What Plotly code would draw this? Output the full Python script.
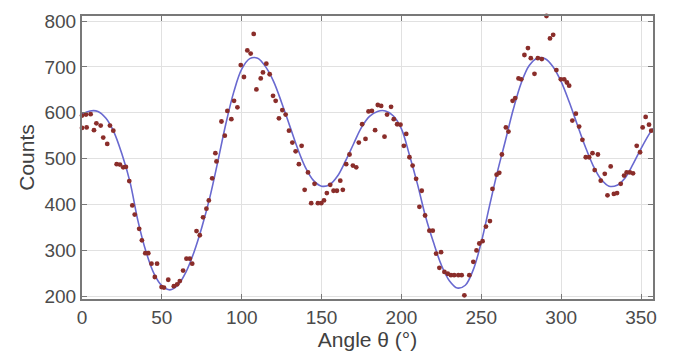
import plotly.graph_objects as go

# Measured data points (angle in degrees, counts)
angle_deg = [0, 2.5, 5.4, 0, 2.9, 7.5, 9, 11.7, 13.3, 15.8, 17.5, 19.6, 21.7, 23.75, 25.8, 27.5,
             29.6, 31.5, 33, 35.8, 37.5, 39.6, 41.5, 43.5, 47, 45.6, 49.8, 51.3, 54, 55, 57.5, 59.6,
             61.25, 63.3, 65.4, 67.5, 69, 71.7, 73.75, 75.8, 77.9, 79.4, 81.5, 84.2, 83.5, 87.3,
             89.4, 91, 93.5, 95.2, 97.3, 99.4, 101.4, 103.5, 105.6, 107.5, 109.2, 111.9, 113.3,
             115.4, 117.5, 119.6, 121.25, 123.3, 125.4, 127.5, 129.6, 131.7, 133.75, 137.5, 135.8,
             141.5, 139.4, 143.5, 145.6, 147.7, 149.8, 151.5, 153.3, 155.4, 157.5, 159.6, 161.7,
             163.3, 165.4, 167.5, 169.6, 171.7, 173.3, 175.4, 177.5, 179.4, 181.5, 183.5, 185.2,
             187.3, 189.4, 191, 193.5, 195.2, 197.3, 199.4, 201.5, 203, 205, 207, 209.2, 212.7,
             211.25, 214.8, 217.5, 219.6, 221.7, 224.8, 223.75, 226.9, 229, 231, 233, 235.6, 237.7,
             239.4, 242.5, 245, 247, 248.75, 250.8, 252.9, 255.4, 257, 259.6, 261.25, 262.9, 267,
             265.4, 269.6, 271.25, 273.3, 275, 277, 279.2, 281, 283.3, 285.4, 287.9, 290.8, 293,
             295, 297, 299.8, 301.9, 303.6, 305, 307, 309.2, 311.25, 313.3, 315.4, 317.5, 319.6,
             321, 323, 324.8, 327.3, 329, 331, 333, 335, 337.3, 339.4, 341, 343, 345, 347.3, 349.4,
             351, 352.9, 355, 356.4]
counts = [594, 596, 597, 567, 568, 562, 577, 572, 546, 532, 572, 561, 488, 487, 481, 482,
          451, 398, 378, 347, 322, 294, 294, 271, 271, 242, 220, 219, 236, 193, 222, 226,
          233, 256, 282, 282, 271, 342, 333, 372, 391, 409, 457, 494, 512, 581,
          550, 604, 586, 626, 612, 704, 678, 736, 729, 772, 651, 675, 688,
          707, 684, 637, 626, 588, 606, 596, 561, 535, 516, 528, 488,
          470, 432, 403, 445, 403, 403, 409, 425, 443, 430, 430, 452,
          432, 488, 509, 485, 481, 535, 575, 543, 603, 604, 562, 617,
          615, 548, 596, 613, 586, 575, 574, 528, 554, 503, 485, 456, 430,
          395, 376, 343, 343, 293, 296, 262, 253, 249, 246, 246, 246, 246,
          202, 246, 275, 300, 315, 320, 352, 364, 434, 465, 469, 509, 559,
          568, 626, 632, 675, 673, 726, 741, 719, 685, 719, 717, 811, 762,
          770, 693, 673, 673, 666, 659, 583, 598, 570, 541, 503, 503, 512,
          475, 509, 452, 467, 420, 483, 423, 425, 445, 463, 470, 470, 468, 528, 514,
          568, 591, 574, 561]

# Fitted curve
fit_angle = [0, 5, 10, 15, 20, 25, 30, 35, 40, 45, 50, 55, 60, 65, 70, 75, 80, 85, 90, 95,
             100, 105, 110, 115, 120, 125, 130, 135, 140, 145, 150, 155, 160, 165, 170, 175,
             180, 185, 190, 195, 200, 205, 210, 215, 220, 225, 230, 235, 240, 245, 250, 255,
             260, 265, 270, 275, 280, 285, 290, 295, 300, 305, 310, 315, 320, 325, 330, 335,
             340, 345, 350, 355, 357.5]
fit_counts = [597, 604, 603, 588, 558, 510, 450, 365, 298, 250, 223, 214, 224, 252, 295, 350,
              415, 493, 575, 645, 695, 718, 719, 700, 668, 622, 572, 522, 480, 452, 440, 443,
              462, 495, 532, 568, 592, 603, 604, 593, 565, 508, 445, 375, 318, 268, 234, 218,
              224, 258, 318, 395, 470, 538, 607, 665, 703, 719, 718, 700, 668, 624, 575, 527,
              485, 455, 440, 442, 458, 488, 522, 553, 566]

x_ticks = [0, 50, 100, 150, 200, 250, 300, 350]
y_ticks = [200, 300, 400, 500, 600, 700, 800]

fig = go.Figure()
fig.add_trace(go.Scatter(x=fit_angle, y=fit_counts, mode="lines",
                         line=dict(color="rgb(105,105,208)", width=1.6, shape="spline", smoothing=1.0),
                         hoverinfo="skip", showlegend=False))
fig.add_trace(go.Scatter(x=angle_deg, y=counts, mode="markers",
                         marker=dict(color="rgb(138,45,42)", size=4.8, line=dict(width=0)),
                         cliponaxis=False, showlegend=False))

font_family = "Liberation Sans, Arial, sans-serif"
axis_common = dict(showgrid=True, gridcolor="rgb(225,225,225)", gridwidth=1,
                   showline=True, linecolor="rgb(120,120,120)", linewidth=2, mirror="ticks",
                   ticks="inside", ticklen=5, tickcolor="rgb(120,120,120)", zeroline=False,
                   tickfont=dict(family=font_family, size=19, color="rgb(75,75,75)"),
                   title_font=dict(family=font_family, size=21, color="rgb(65,65,65)"))

fig.update_xaxes(range=[0, 357.5], tickvals=x_ticks, ticktext=[str(v) for v in x_ticks],
                 title_text="Angle θ (°)", title_standoff=2, **axis_common)
fig.update_yaxes(range=[194, 811], tickvals=y_ticks, ticktext=[str(v) for v in y_ticks],
                 title_text="Counts", title_standoff=4, **axis_common)

fig.update_layout(width=680, height=347, margin=dict(l=74, r=35, t=8, b=56, autoexpand=False),
                  paper_bgcolor="white", plot_bgcolor="white")

fig.write_html("out.html")
